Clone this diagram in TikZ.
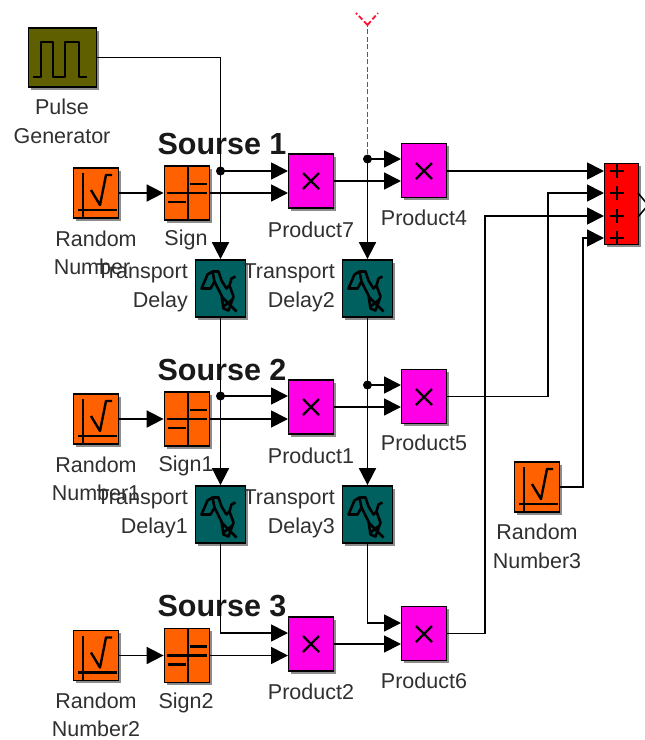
\documentclass[tikz,border=0pt]{standalone}
\usepackage{fontspec}
\setmainfont{Liberation Sans}
\usetikzlibrary{arrows.meta,shadows}
\definecolor{olivebox}{HTML}{5F5F00}
\definecolor{orangebox}{HTML}{FF6000}
\definecolor{magbox}{HTML}{FF00E6}
\definecolor{tealbox}{HTML}{005F5F}
\definecolor{txt}{HTML}{303030}
\definecolor{redline}{HTML}{FF1030}
\tikzset{
  blockbox/.style={draw=black,line width=1.8pt,inner sep=0pt,minimum width=#1,
     drop shadow={shadow xshift=2.5pt,shadow yshift=-2.5pt,opacity=.45,fill=black}},
  pulsebox/.style={blockbox=68pt,minimum height=59pt,fill=olivebox},
  randbox/.style={blockbox=45pt,minimum height=50pt,fill=orangebox},
  signbox/.style={blockbox=45pt,minimum height=54pt,fill=orangebox},
  prodbox/.style={blockbox=45pt,minimum height=54pt,fill=magbox},
  delaybox/.style={blockbox=50pt,minimum height=57pt,fill=tealbox},
  sumbox/.style={blockbox=34pt,minimum height=81pt,fill=red},
  lbl/.style={font=\fontsize{21.5}{29}\selectfont,text=txt,align=center,inner sep=0pt},
  lblr/.style={lbl,align=right},
  ttl/.style={font=\bfseries\fontsize{30.5}{32}\selectfont,text=black!90,inner sep=0pt},
  wire/.style={draw=black,line width=1.8pt},
  arr/.style={wire,-{Triangle[length=17pt,width=17pt]}},
  dot/.style={circle,fill=black,inner sep=0pt,minimum size=9pt},
  glyph/.style={draw=black,line width=2.4pt,line join=round},
  redsig/.style={draw=redline,line width=1.8pt,dash pattern=on 5pt off 2.5pt}
}
\newcommand{\randglyph}[1]{\begin{scope}[shift={(#1)}]
  \draw[glyph] (-13,-20)--(-13,24) (-18,17)--(21,17);
  \draw[glyph] (-5,-3)--(4,12)--(10,-18)--(16,-18);
\end{scope}}
\newcommand{\signglyph}[1]{\begin{scope}[shift={(#1)}]
  \draw[glyph] (1,-27)--(1,27) (-20,0)--(20,0) (3,-9)--(20,-9) (-19,9)--(-1,9);
\end{scope}}
\newcommand{\prodglyph}[1]{\begin{scope}[shift={(#1)}]
  \draw[glyph] (-8,-8)--(8,8) (-8,8)--(8,-8);
\end{scope}}
\newcommand{\delayglyph}[1]{\begin{scope}[shift={(#1)}]
  \draw[glyph,line width=2.6pt] (-19,0)--(-13,-14)--(-8,-17)--(-6,-7)--(-10,0)--cycle
     (-8,-17)--(-2,-17)--(1,-8)--(6,0)--(9,-3)--(11,-10)--(15,-12)
     (-6,-7)--(1,7)--(3,20)--(8,22)--(13,8)--(9,-3)
     (1,8)--(16,23) (3,18)--(12,11);
\end{scope}}
\begin{document}
\begin{tikzpicture}[x=1pt,y=-1pt]
\useasboundingbox (0,0) rectangle (645,740);
\fill[white] (0,0) rectangle (645,740);

% blocks
\node[pulsebox] (pg) at (62.5,57.5) {};
\node[randbox] (r0) at (96,193) {};
\node[signbox] (s0) at (187,193) {};
\node[prodbox] (p7) at (311,181) {};
\node[prodbox] (p4) at (424,170.5) {};
\node[delaybox] (d0) at (220.5,288.5) {};
\node[delaybox] (d2) at (367.5,288.5) {};
\node[sumbox] (sum) at (621.5,204) {};
\node[randbox] (r1) at (96,419) {};
\node[signbox] (s1) at (187,419) {};
\node[prodbox] (p1) at (311,407) {};
\node[prodbox] (p5) at (424,396.5) {};
\node[delaybox] (d1) at (220.5,514.5) {};
\node[delaybox] (d3) at (367.5,514.5) {};
\node[randbox] (r3) at (537,487) {};
\node[randbox] (r2) at (96,655.5) {};
\node[signbox] (s2) at (187,655.5) {};
\node[prodbox] (p2) at (311,644) {};
\node[prodbox] (p6) at (424,633.5) {};

% glyphs
\draw[glyph] (33,77)--(41,77)--(41,42)--(53,42)--(53,77)--(65,77)--(65,42)--(79,42)--(79,77)--(87,77);
\randglyph{96,193}\randglyph{96,419}\randglyph{96,655.5}\randglyph{537,487}
\signglyph{187,193}\signglyph{187,419}\signglyph{187,655.5}
\prodglyph{311,181}\prodglyph{424,171}\prodglyph{311,407}\prodglyph{424,397}\prodglyph{311,644}\prodglyph{424,634}
\delayglyph{220.5,288.5}\delayglyph{367.5,288.5}\delayglyph{220.5,514.5}\delayglyph{367.5,514.5}
\foreach \yy in {171,193,216,238}{\draw[glyph] (610,\yy)--(624,\yy) (617,\yy-7)--(617,\yy+7);}
\draw[black,line width=1.5pt] (638,193)--(648,205)--(638,217);

% labels
\node[lbl] (tpg) at (62,121) {Pulse\\Generator};
\node[lbl] (tr0) at (96,239) {Random};
\node[lbl] (tr0b) at (92,267) {Number};
\node[lbl] (ts0) at (186,240) {Sign};
\node[lbl] (tp7) at (311,230) {Product7};
\node[lbl] (tp4) at (424,218) {Product4};
\node[lblr,anchor=east] (td0) at (188,288) {Transport\\Delay};
\node[lblr,anchor=east] (td2) at (335,288) {Transport\\Delay2};
\node[lbl] (tr1) at (96,465) {Random};
\node[lbl] (tr1b) at (96,493) {Number1};
\node[lbl] (ts1) at (186,466) {Sign1};
\node[lbl] (tp1) at (311,456) {Product1};
\node[lbl] (tp5) at (424,443) {Product5};
\node[lblr,anchor=east] (td1) at (188,514) {Transport\\Delay1};
\node[lblr,anchor=east] (td3) at (335,514) {Transport\\Delay3};
\node[lbl] (tr3) at (537,546) {Random\\Number3};
\node[lbl] (tr2) at (96,701) {Random};
\node[lbl] (tr2b) at (96,728.5) {Number2};
\node[lbl] (ts2) at (186,703) {Sign2};
\node[lbl] (tp2) at (311,692) {Product2};
\node[lbl] (tp6) at (424,681) {Product6};
\node[ttl] (h1) at (222,144) {Sourse 1};
\node[ttl] (h2) at (222,370) {Sourse 2};
\node[ttl] (h3) at (222,606) {Sourse 3};

% named ports
\coordinate (j0) at (220.5,171);
\coordinate (j1) at (220.5,396);
\coordinate (k0) at (367.5,159);
\coordinate (k1) at (367.5,385);
\coordinate (p7a) at (288,171);
\coordinate (p7b) at (288,193);
\coordinate (p4a) at (401,159);
\coordinate (p4b) at (401,181);
\coordinate (p1a) at (288,396);
\coordinate (p1b) at (288,419);
\coordinate (p5a) at (401,385);
\coordinate (p5b) at (401,407);
\coordinate (p2a) at (288,633);
\coordinate (p2b) at (288,655.5);
\coordinate (p6a) at (401,623);
\coordinate (p6b) at (401,644);
\coordinate (sa) at (604,171);
\coordinate (sb) at (604,193);
\coordinate (sc) at (604,216);
\coordinate (sd) at (604,238);
\coordinate (ant) at (367.5,25);
\coordinate (antl) at (356,13);
\coordinate (antr) at (378,13);

% connectors
\draw[arr] (pg.east) -| (d0.north);
\draw[arr] (r0.east) -- (s0.west);
\draw[arr] (r1.east) -- (s1.west);
\draw[arr] (r2.east) -- (s2.west);
\draw[arr] (s0.east) -- (p7b);
\draw[arr] (s1.east) -- (p1b);
\draw[arr] (s2.east) -- (p2b);
\draw[arr] (j0) -- (p7a);
\draw[arr] (j1) -- (p1a);
\draw[arr] (d0.south) -- (d1.north);
\draw[arr] (d1.south) |- (p2a);
\draw[arr] (k0) -- (d2.north);
\draw[arr] (k0) -- (p4a);
\draw[arr] (k1) -- (p5a);
\draw[arr] (d2.south) -- (d3.north);
\draw[arr] (d3.south) |- (p6a);
\draw[arr] (p7.east) -- (p4b);
\draw[arr] (p1.east) -- (p5b);
\draw[arr] (p2.east) -- (p6b);
\draw[arr] (p4.east |- sa) -- (sa);
\draw[arr] (p5.east) -- (548,396.5) -- (548,193) -- (sb);
\draw[arr] (p6.east) -- (485,633.5) -- (485,216) -- (sc);
\draw[arr] (r3.east) -- (583,487) -- (583,238) -- (sd);
\node[dot] (dj0) at (j0) {};
\node[dot] (dj1) at (j1) {};
\node[dot] (dk0) at (k0) {};
\node[dot] (dk1) at (k1) {};
\draw[redsig] (dk0.north) -- (ant);
\draw[redsig] (ant) -- (antl) (ant) -- (antr);
\end{tikzpicture}
\end{document}
